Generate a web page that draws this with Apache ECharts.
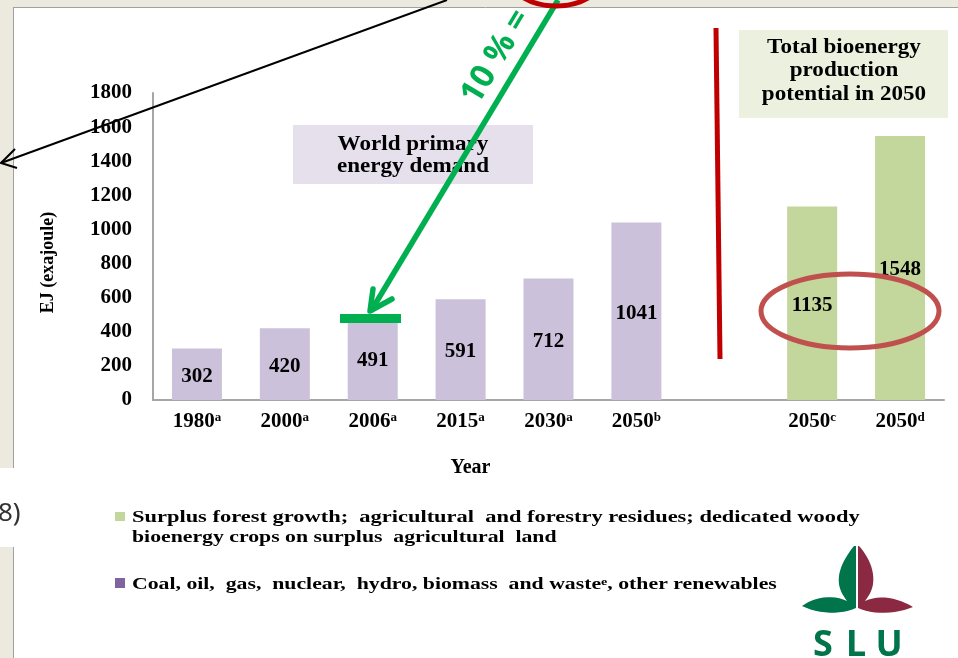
<!DOCTYPE html>
<html><head><meta charset="utf-8">
<script src="https://cdn.jsdelivr.net/npm/echarts@6/dist/echarts.min.js"></script>
<style>html,body{margin:0;padding:0;background:#fff}#c{width:958px;height:658px}</style>
</head><body><div id="c"></div>
<script>
// ---- data ----
const categories = ['1980','2000','2006','2015','2030','2050','','2050','2050'];
const superscripts = ['a','a','a','a','a','b','','c','d'];
const demandValues = [302,420,491,591,712,1041,null,null,null];
const potentialValues = [null,null,null,null,null,null,null,1135,1548];
const yMin = 0, yMax = 1800, yInterval = 200;
const legendLines = [
  'Surplus forest growth;  agricultural  and forestry residues; dedicated woody',
  'bioenergy crops on surplus  agricultural  land',
  'Coal, oil,  gas,  nuclear,  hydro, biomass  and waste{s|e}, other renewables'
];
const boxTexts = ['World primary\nenergy demand', 'Total bioenergy\nproduction\npotential in 2050'];

const SERIF = '"Liberation Serif", "Times New Roman", serif';
const chart = echarts.init(document.getElementById('c'), null, {renderer:'canvas'});
const catKeys = categories.map((c,i)=>c+superscripts[i]+'_'+i);

// sample a shape made of cubic segments into polygon points (logo decoration)
function sampleShape(start, segs){
  const pts=[start.slice()]; let p0=start;
  segs.forEach(s=>{
    if(s.length===1){ pts.push(s[0].slice()); p0=s[0]; return; }
    const [c1,c2,p3]=s;
    for(let k=1;k<=12;k++){const t=k/12,u=1-t;
      pts.push([u*u*u*p0[0]+3*u*u*t*c1[0]+3*u*t*t*c2[0]+t*t*t*p3[0], u*u*u*p0[1]+3*u*u*t*c1[1]+3*u*t*t*c2[1]+t*t*t*p3[1]]);}
    p0=p3;
  });
  return pts;
}
const leafL = sampleShape([854,546],[[[846,556],[837,570],[839,584]],[[840,592],[845,598],[847,601]],[[832,594],[814,597],[802,606]],[[818,614],[842,615],[856,608]],[[856,546]]]);
const leafR = sampleShape([859,546],[[[868,556],[875,570],[873,584]],[[872,592],[867,598],[865,601]],[[880,594],[898,598],[913,607]],[[897,614],[872,615],[858,608]],[[858,546]]]);

const labelStyle = {show:true, position:'inside', offset:[0,2], color:'#000', fontFamily:SERIF, fontWeight:'bold', fontSize:21, formatter: p => p.value};

const bg = '#ECE9DF';
function legendText(y, txt, sx){
  return {type:'text', z:5, x:132, y:y, scaleX:sx, originX:0, originY:0,
    style:{x:0, y:0, text:txt, textVerticalAlign:'middle', fontFamily:SERIF, fontWeight:'bold', fontSize:17, fill:'#000',
      rich:{s:{fontFamily:SERIF, fontWeight:'bold', fontSize:11, verticalAlign:'top', lineHeight:11}}}};
}
function boxText(x, y, txt, lh){
  return {type:'text', z:1, x:x, y:y, scaleX:1.1, originX:0, originY:0,
    style:{x:0, y:0, text:txt, textAlign:'center', textVerticalAlign:'middle', fontFamily:SERIF, fontWeight:'bold', fontSize:21, lineHeight:lh, fill:'#000'}};
}
const sluFont = '"Noto Sans", sans-serif';
const option = {
  animation:false,
  backgroundColor:'#fff',
  grid:{left:153, right:14, top:93, bottom:258, containLabel:false},
  xAxis:{
    type:'category', data:catKeys,
    axisLine:{show:true, lineStyle:{color:'#A6A6A6', width:2}},
    axisTick:{show:false},
    name:'Year', nameLocation:'middle', nameGap:58,
    nameTextStyle:{fontFamily:SERIF, fontWeight:'bold', fontSize:20, color:'#000', padding:[0,156,0,0]},
    axisLabel:{
      margin:11, interval:0,
      formatter:(v,i)=> categories[i] ? '{v|'+categories[i]+'}{s|'+superscripts[i]+'}' : '',
      rich:{
        v:{fontFamily:SERIF, fontWeight:'bold', fontSize:21, color:'#000', lineHeight:22},
        s:{fontFamily:SERIF, fontWeight:'bold', fontSize:13, color:'#000', lineHeight:13, verticalAlign:'top'}
      }
    }
  },
  yAxis:{
    type:'value', min:yMin, max:yMax, interval:yInterval,
    axisLine:{show:true, lineStyle:{color:'#A6A6A6', width:2}},
    axisTick:{show:false}, splitLine:{show:false},
    axisLabel:{margin:21, color:'#000', fontFamily:SERIF, fontWeight:'bold', fontSize:21, formatter: v => String(v)},
    name:'EJ (exajoule)', nameLocation:'middle', nameGap:96, nameRotate:90,
    nameTextStyle:{fontFamily:SERIF, fontWeight:'bold', fontSize:18, color:'#000', padding:[0,32,0,0]}
  },
  series:[
    {name:'demand', type:'bar', stack:'s', data:demandValues, barWidth:50,
     itemStyle:{color:'#CCC1DA'}, label:labelStyle},
    {name:'potential', type:'bar', stack:'s', data:potentialValues, barWidth:50,
     itemStyle:{color:'#C3D69B'}, label:labelStyle}
  ],
  graphic:{elements:[
    // slide frame
    {type:'rect', z:-10, shape:{x:0,y:0,width:958,height:7}, style:{fill:bg}},
    {type:'line', z:-9, shape:{x1:13,y1:7.5,x2:958,y2:7.5}, style:{stroke:'#A0A0A0', lineWidth:1}},
    {type:'rect', z:-10, shape:{x:0,y:0,width:13,height:468}, style:{fill:bg}},
    {type:'line', z:-9, shape:{x1:13.5,y1:7,x2:13.5,y2:468}, style:{stroke:'#A0A0A0', lineWidth:1}},
    {type:'rect', z:-10, shape:{x:0,y:547,width:13,height:111}, style:{fill:bg}},
    {type:'line', z:-9, shape:{x1:13.5,y1:547,x2:13.5,y2:658}, style:{stroke:'#A0A0A0', lineWidth:1}},
    {type:'text', z:5, style:{x:-2, y:514, text:'8)', fontFamily:'"Noto Sans", sans-serif', fontSize:26, fill:'#333', textVerticalAlign:'middle'}},
    // annotation boxes
    {type:'rect', z:-5, shape:{x:293,y:125,width:240,height:59}, style:{fill:'#E5E0EC'}},
    boxText(413, 156, boxTexts[0], 22),
    {type:'rect', z:-5, shape:{x:739,y:30,width:209,height:88}, style:{fill:'#EBF1DE'}},
    boxText(844, 71, boxTexts[1], 23.5),
    // red divider
    {type:'line', z:50, shape:{x1:716,y1:28,x2:720,y2:359}, style:{stroke:'#C00000', lineWidth:5}},
    // red ellipse bottom right
    {type:'ellipse', z:50, shape:{cx:850,cy:311,rx:89,ry:37}, style:{fill:null, stroke:'#C0504D', lineWidth:5}},
    // green marker on 2006 bar
    {type:'rect', z:50, shape:{x:340,y:314,width:61,height:9}, style:{fill:'#00B050'}},
    // green arrow
    {type:'line', z:51, shape:{x1:558,y1:0,x2:371,y2:311}, style:{stroke:'#00B050', lineWidth:5.5}},
    {type:'polyline', z:51, shape:{points:[[373,289],[370,311],[392,299]]}, style:{stroke:'#00B050', lineWidth:5.5, fill:null, lineJoin:'round', lineCap:'round'}},
    {type:'text', z:51, x:496, y:57, rotation:59*Math.PI/180, style:{x:0,y:0,text:'10 % =', textAlign:'center', textVerticalAlign:'middle', fontFamily:'"Open Sans", Lato, sans-serif', fontWeight:'bold', fontSize:33, fill:'#00B050'}},
    // red ellipse top
    {type:'ellipse', z:52, shape:{cx:556,cy:-21,rx:45,ry:27}, style:{fill:null, stroke:'#C00000', lineWidth:5}},
    // black arrow
    {type:'line', z:52, shape:{x1:447,y1:0,x2:1,y2:163}, style:{stroke:'#000', lineWidth:2}},
    {type:'polyline', z:52, shape:{points:[[15,149],[1,163],[17,168]]}, style:{stroke:'#000', lineWidth:2, fill:null}},
    // legend
    {type:'rect', z:5, shape:{x:115,y:512,width:10,height:9}, style:{fill:'#C3D69B'}},
    legendText(518, legendLines[0], 1.32),
    legendText(538, legendLines[1], 1.28),
    {type:'rect', z:5, shape:{x:115,y:578,width:10,height:10}, style:{fill:'#8064A2'}},
    legendText(585, legendLines[2], 1.28),
    // SLU logo
    {type:'polygon', z:5, shape:{points:leafL}, style:{fill:'#00744A'}},
    {type:'polygon', z:5, shape:{points:leafR}, style:{fill:'#8B2942'}},
    {type:'text', z:5, style:{x:823, y:646, text:'S', textAlign:'center', textVerticalAlign:'middle', fontFamily:sluFont, fontWeight:'bold', fontSize:36, fill:'#00744A'}},
    {type:'text', z:5, style:{x:856, y:646, text:'L', textAlign:'center', textVerticalAlign:'middle', fontFamily:sluFont, fontWeight:'bold', fontSize:36, fill:'#00744A'}},
    {type:'text', z:5, style:{x:889, y:646, text:'U', textAlign:'center', textVerticalAlign:'middle', fontFamily:sluFont, fontWeight:'bold', fontSize:36, fill:'#00744A'}}
  ]}
};
chart.setOption(option);
</script></body></html>
